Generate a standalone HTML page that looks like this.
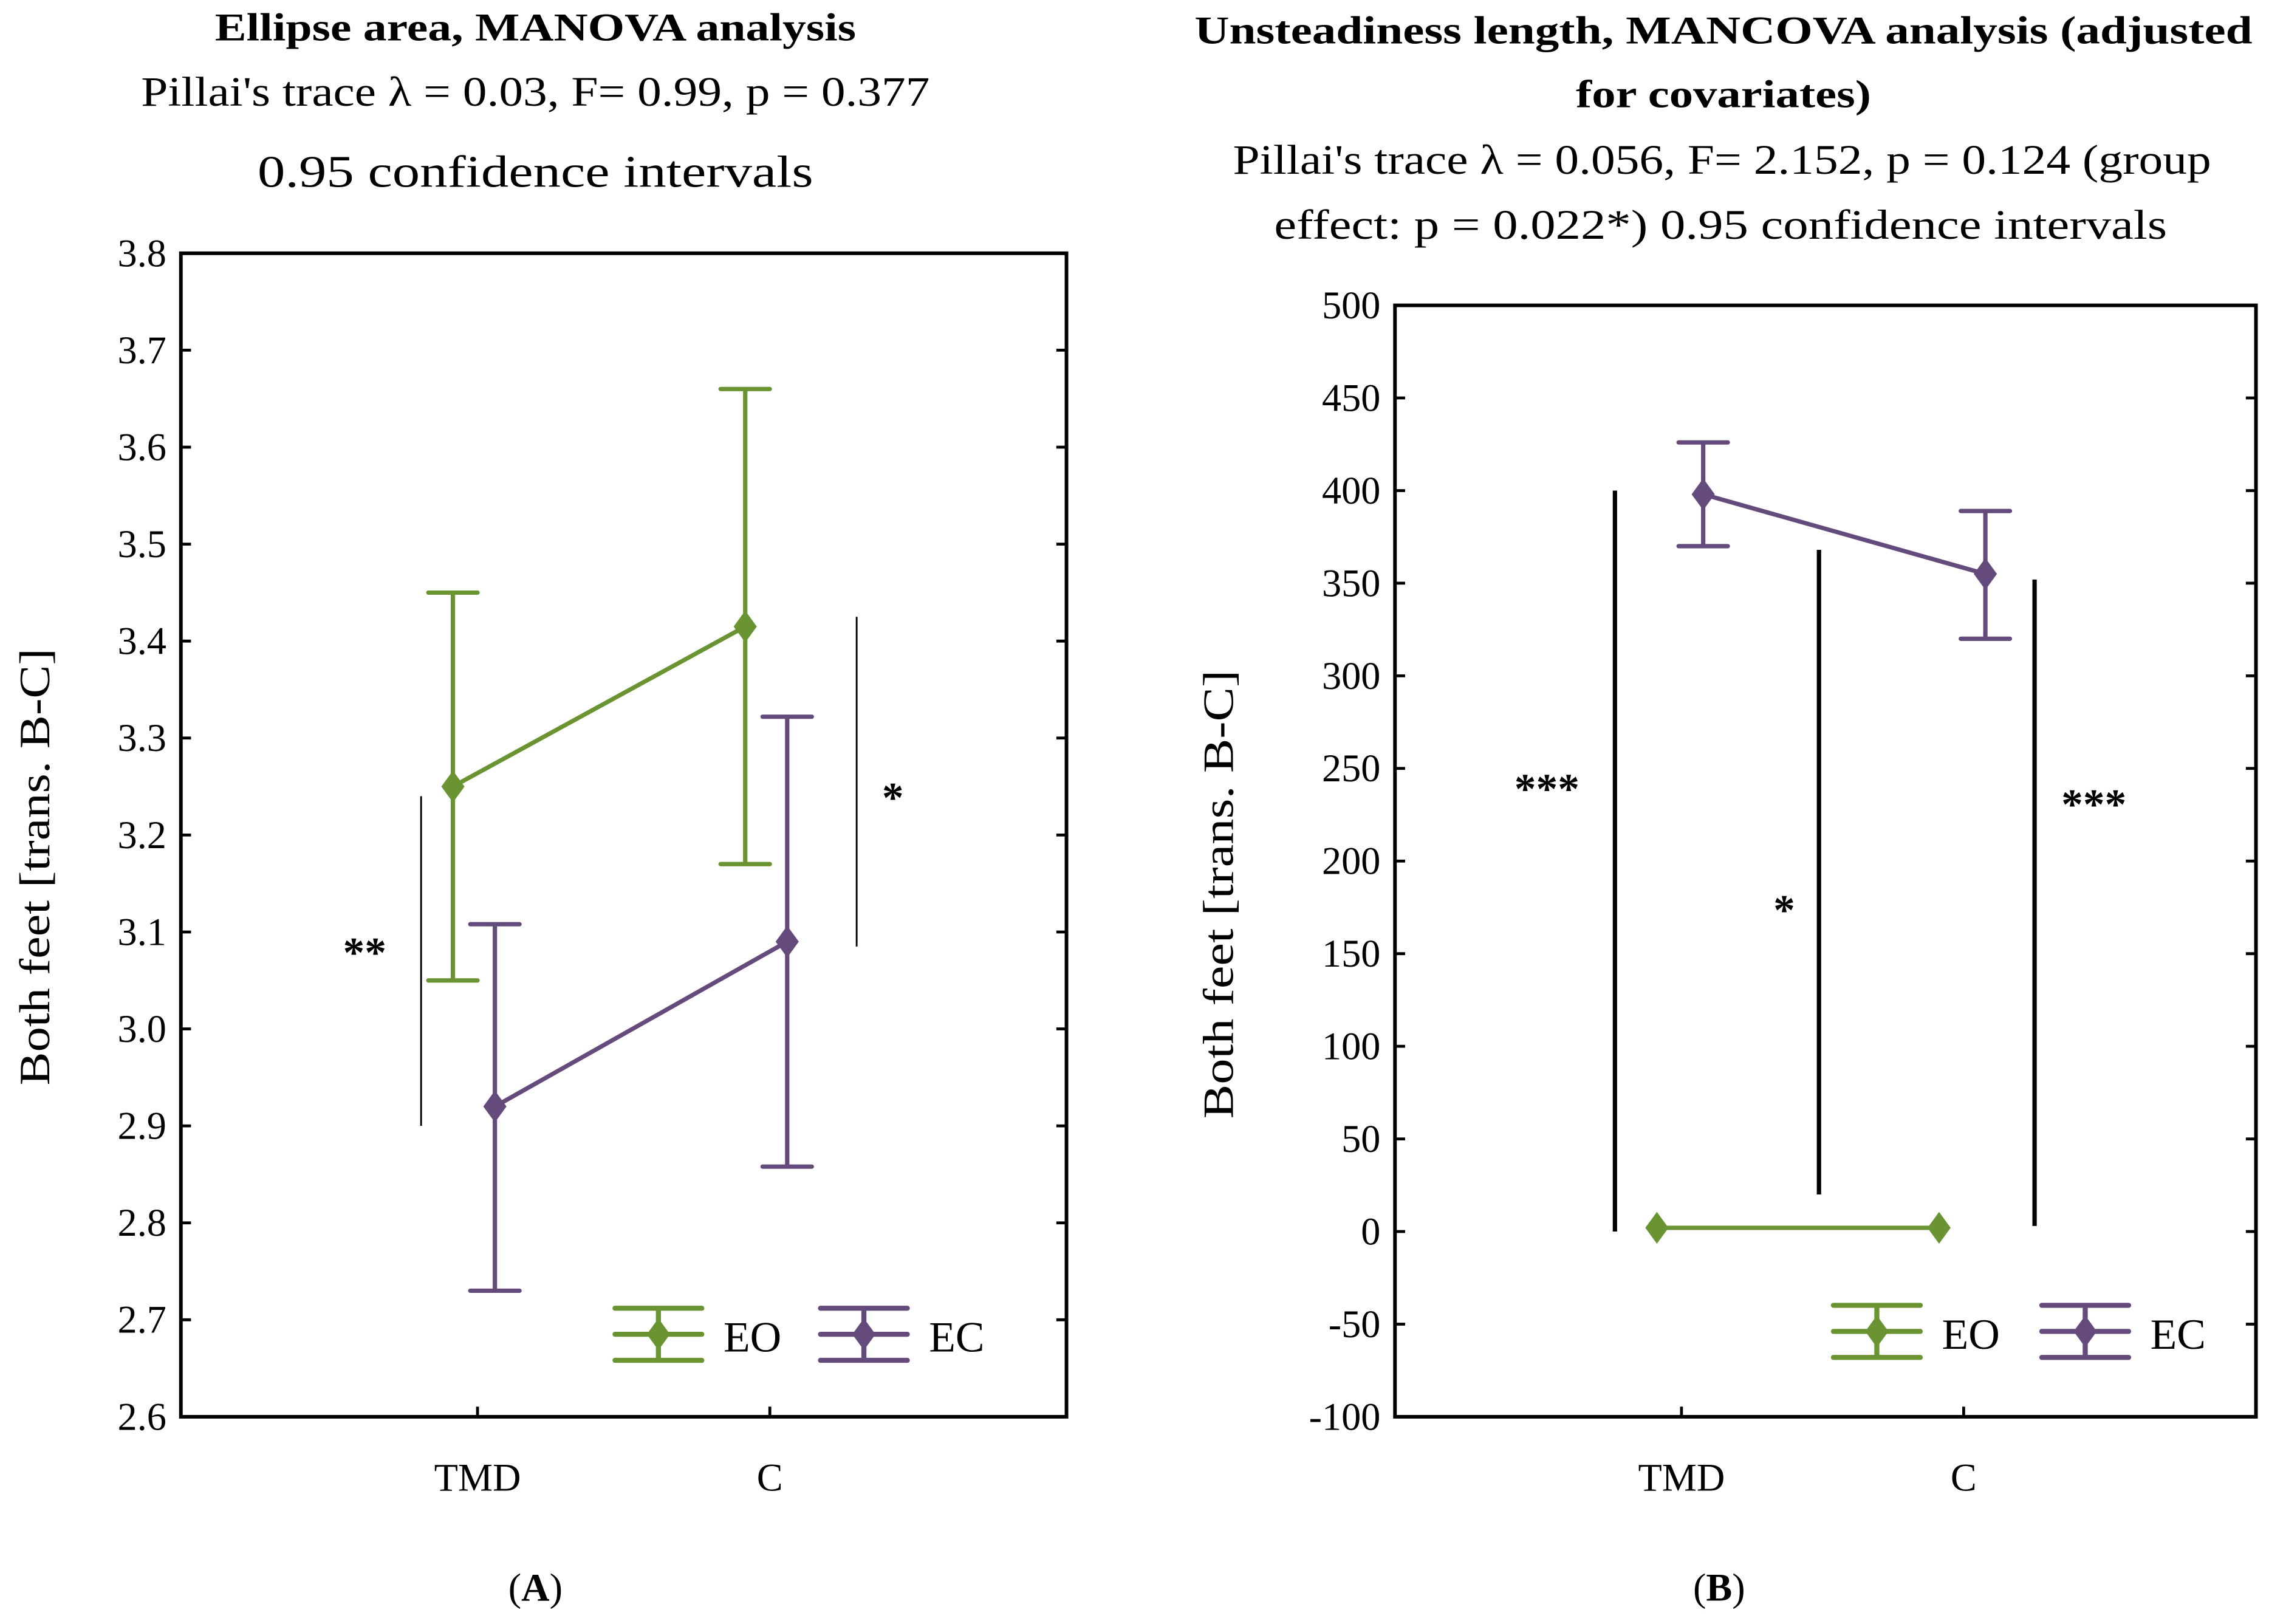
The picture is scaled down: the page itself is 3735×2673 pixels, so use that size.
<!DOCTYPE html>
<html><head><meta charset="utf-8"><style>
html,body{margin:0;padding:0;background:#fff;}
svg{display:block;}
text{font-family:"Liberation Serif",serif;fill:#000;}
.tk{font-family:"Liberation Serif",serif;font-size:27px;}
</style></head><body>
<svg id="chart" width="3735" height="2673" viewBox="0 0 1568 1122.2" preserveAspectRatio="none" xmlns="http://www.w3.org/2000/svg">
<g>
<text x="370" y="28" font-size="27" font-weight="bold" text-anchor="middle" textLength="443" lengthAdjust="spacingAndGlyphs">Ellipse area, MANOVA analysis</text>
<text x="370" y="73" font-size="29" text-anchor="middle" textLength="545" lengthAdjust="spacingAndGlyphs">Pillai's trace  λ = 0.03, F= 0.99, p = 0.377</text>
<text x="370" y="129" font-size="31" text-anchor="middle" textLength="384" lengthAdjust="spacingAndGlyphs">0.95 confidence intervals</text>
<text transform="translate(34,599) rotate(-90)" font-size="30" text-anchor="middle" textLength="302" lengthAdjust="spacingAndGlyphs">Both feet [trans. B-C]</text>
<text x="370" y="1106" font-size="27" text-anchor="middle">(<tspan font-weight="bold">A</tspan>)</text>
<g id="ga"></g>
</g>
<g>
<text x="1191" y="30" font-size="27" font-weight="bold" text-anchor="middle" textLength="731" lengthAdjust="spacingAndGlyphs">Unsteadiness length, MANCOVA analysis (adjusted</text>
<text x="1191" y="74" font-size="27" font-weight="bold" text-anchor="middle" textLength="204" lengthAdjust="spacingAndGlyphs">for covariates)</text>
<text x="1190" y="120" font-size="29" text-anchor="middle" textLength="676" lengthAdjust="spacingAndGlyphs">Pillai's trace λ = 0.056, F= 2.152, p = 0.124 (group</text>
<text x="1189" y="165" font-size="29" text-anchor="middle" textLength="617" lengthAdjust="spacingAndGlyphs">effect: p = 0.022*)  0.95 confidence intervals</text>
<text transform="translate(852,618) rotate(-90)" font-size="30" text-anchor="middle" textLength="310" lengthAdjust="spacingAndGlyphs">Both feet [trans. B-C]</text>
<text x="1188" y="1106" font-size="27" text-anchor="middle">(<tspan font-weight="bold">B</tspan>)</text>
<g id="gb"></g>
</g>
</svg>
<script>
const categories=["TMD","C"];
const aTicks=["2.6","2.7","2.8","2.9","3.0","3.1","3.2","3.3","3.4","3.5","3.6","3.7","3.8"];
const aEOmean=[3.25,3.415];
const aEOlow=[3.05,3.17];
const aEOhigh=[3.45,3.66];
const aECmean=[2.92,3.09];
const aEClow=[2.73,2.858];
const aEChigh=[3.108,3.322];
const aSig=[{from:2.9,to:3.24,label:"**"},{from:3.085,to:3.425,label:"*"}];
const bTicks=["-100","-50","0","50","100","150","200","250","300","350","400","450","500"];
const bEOmean=[2,2];
const bEOlow=[2,2];
const bEOhigh=[2,2];
const bECmean=[398,355];
const bEClow=[370,320];
const bEChigh=[426,389];
const bSig=[{from:0,to:400,label:"***"},{from:20,to:368,label:"*"},{from:3,to:352,label:"***"}];

const NS="http://www.w3.org/2000/svg";
const GREEN="#6a9431",PURPLE="#654a7c";
function mk(p,t,a){const e=document.createElementNS(NS,t);for(const k in a)e.setAttribute(k,a[k]);p.appendChild(e);return e;}
function panel(g,cfg){
  const y=v=>cfg.y0-(cfg.y0-cfg.y1)*(v-cfg.vmin)/(cfg.vmax-cfg.vmin);
  const xc=i=>cfg.cx[i];
  let r=mk(g,'rect',{x:cfg.x0,y:cfg.y1,width:cfg.x1-cfg.x0,height:cfg.y0-cfg.y1,fill:'none',stroke:'#000','stroke-width':2.5});
  
  
  cfg.ticks.forEach(t=>{const v=parseFloat(t),yy=y(v);
    let l=mk(g,'line',{x1:cfg.x0,x2:cfg.x0+7,y1:yy,y2:yy,stroke:'#000','stroke-width':2});
    
    
    let l2=mk(g,'line',{x1:cfg.x1-7,x2:cfg.x1,y1:yy,y2:yy,stroke:'#000','stroke-width':2});
    
    
    let tx=mk(g,'text',{x:cfg.x0-10,y:yy+9,'text-anchor':'end',class:'tk'});tx.textContent=t;
    
    
  });
  categories.forEach((c,i)=>{
    let l=mk(g,'line',{x1:xc(i),x2:xc(i),y1:cfg.y0,y2:cfg.y0-7,stroke:'#000','stroke-width':2});
    
    
    let tx=mk(g,'text',{x:xc(i),y:cfg.y0+51,'text-anchor':'middle',class:'tk'});tx.textContent=c;
    
    
  });
  cfg.sig.forEach((s,i)=>{
    let l=mk(g,'line',{x1:cfg.sigx[i],x2:cfg.sigx[i],y1:y(s.from),y2:y(s.to),stroke:'#000','stroke-width':cfg.sigw});
    
    
    let tx=mk(g,'text',{x:cfg.sigLx[i],y:(y(s.from)+y(s.to))/2+cfg.sigLdy[i],'text-anchor':'middle','font-size':30,'font-weight':'bold'});tx.textContent=s.label;
    
    
  });
  function series(name,col,mean,lo,hi,off){
    const sg=mk(g,'g',{});
    
    
    const px=mean.map((m,i)=>xc(i)+off);
    let pl=mk(sg,'polyline',{points:mean.map((m,i)=>px[i]+','+y(m)).join(' '),fill:'none',stroke:col,'stroke-width':3});
    
    
    mean.forEach((m,i)=>{
      const x=px[i];
      if(Math.abs(y(lo[i])-y(hi[i]))>=2){
        let e=mk(sg,'path',{d:`M${x},${y(hi[i])}V${y(lo[i])}M${x-17},${y(hi[i])}H${x+17}M${x-17},${y(lo[i])}H${x+17}`,stroke:col,'stroke-width':3,'stroke-linecap':'round',fill:'none'});
        
        
      }
      let d=mk(sg,'path',{d:`M${x},${y(m)-11}L${x+8},${y(m)}L${x},${y(m)+11}L${x-8},${y(m)}Z`,fill:col});
      
      
    });
  }
  series('eo',GREEN,cfg.eo[0],cfg.eo[1],cfg.eo[2],cfg.off[0]);
  series('ec',PURPLE,cfg.ec[0],cfg.ec[1],cfg.ec[2],cfg.off[1]);
  [['EO',GREEN,cfg.leg[0]],['EC',PURPLE,cfg.leg[1]]].forEach(([n,col,lx])=>{
    const lg=mk(g,'g',{});
    
    
    const ly=cfg.legy;
    mk(lg,'path',{d:`M${lx-30},${ly-18}H${lx+30}M${lx-30},${ly}H${lx+30}M${lx-30},${ly+18}H${lx+30}M${lx},${ly-18}V${ly+18}`,stroke:col,'stroke-width':3.5,'stroke-linecap':'round'});
    mk(lg,'path',{d:`M${lx},${ly-11}L${lx+8},${ly}L${lx},${ly+11}L${lx-8},${ly}Z`,fill:col});
    let t=mk(lg,'text',{x:lx+45,y:ly+12,'font-size':30});t.textContent=n;
  });
}
panel(document.getElementById('ga'),{x0:125,x1:737,y0:979,y1:175,vmin:2.6,vmax:3.8,ticks:aTicks,cx:[330,532],off:[-17,12],
  eo:[aEOmean,aEOlow,aEOhigh],ec:[aECmean,aEClow,aEChigh],sig:aSig,sigx:[291,592],sigLx:[252,617],sigLdy:[4,21],sigw:1.2,leg:[455,597],legy:922});
panel(document.getElementById('gb'),{x0:964,x1:1559,y0:979,y1:211,vmin:-100,vmax:500,ticks:bTicks,cx:[1162,1357],off:[-17,15],
  eo:[bEOmean,bEOlow,bEOhigh],ec:[bECmean,bEClow,bEChigh],sig:bSig,sigx:[1116,1257,1406],sigLx:[1069,1233,1447],sigLdy:[-40,36,-58],sigw:3,leg:[1297,1441],legy:920});
</script>
</body></html>
